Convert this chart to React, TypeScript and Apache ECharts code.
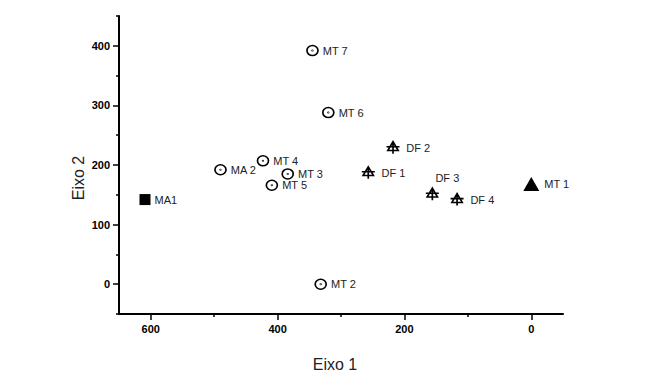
import React, { useEffect, useRef } from "react";
import * as echarts from "echarts";

const amostras = ["MA1", "MA 2", "MT 1", "MT 2", "MT 3", "MT 4", "MT 5", "MT 6", "MT 7", "DF 1", "DF 2", "DF 3", "DF 4"];
const eixo1 = [609, 490, 0, 332, 384, 423, 409, 320, 345, 257, 218, 156, 117];
const eixo2 = [142, 192, 168, 0, 185, 207, 166, 288, 392, 187, 229, 151, 142];
const grupos = ["quadrado", "circulo", "triangulo", "circulo", "circulo", "circulo", "circulo", "circulo", "circulo", "df", "df", "df", "df"];

const xTicksMaiores = [600, 400, 200, 0];
const xTicksMenores = [500, 300, 100];
const yTicksMaiores = [0, 100, 200, 300, 400];
const yTicksMenores = [-50, 50, 150, 250, 350, 450];

const circuloPath =
  "path://M1,10 A9,9 0 1,1 19,10 A9,9 0 1,1 1,10 Z M9.5,10 A0.5,0.5 0 1,1 10.5,10 A0.5,0.5 0 1,1 9.5,10 Z";
const dfPath = "path://M10,1 L18,15 L2,15 Z M0,9 L20,9 M10,1 L10,20";

export default function App() {
  const ref = useRef<HTMLDivElement>(null);
  useEffect(() => {
    if (!ref.current) return;
    const chart = echarts.init(ref.current, null, { renderer: "svg" });
    const pontos = (g: string) =>
      amostras
        .map((n, i) => ({ name: n, value: [eixo1[i], eixo2[i]], g: grupos[i] }))
        .filter((p) => p.g === g)
        .map((p) =>
          p.name === "DF 3"
            ? { name: p.name, value: p.value, label: { position: "top", offset: [15, 2] } }
            : { name: p.name, value: p.value }
        );
    const label = {
      show: true,
      position: "right",
      distance: 4,
      formatter: "{b}",
      fontSize: 11,
      color: "#222",
      fontFamily: "Liberation Sans, Arial, sans-serif",
    };
    const tickFont = {
      fontSize: 11,
      fontWeight: "bold",
      color: "#000",
      fontFamily: "Liberation Sans Narrow, Arial Narrow, Liberation Sans, Arial, sans-serif",
    };
    chart.setOption({
      animation: false,
      backgroundColor: "#fff",
      grid: { left: 119, right: 87, top: 16, bottom: 73 },
      xAxis: [
        {
          type: "value",
          min: -50,
          max: 650,
          inverse: true,
          position: "bottom",
          splitLine: { show: false },
          axisLine: { show: true, onZero: false, lineStyle: { color: "#000", width: 2 } },
          axisTick: { show: true, customValues: xTicksMaiores, length: 6, lineStyle: { color: "#000", width: 1.5 } },
          axisLabel: { customValues: xTicksMaiores, margin: 9, ...tickFont },
        },
        {
          type: "value",
          min: -50,
          max: 650,
          inverse: true,
          position: "bottom",
          splitLine: { show: false },
          axisLine: { show: false, onZero: false },
          axisTick: { show: true, customValues: xTicksMenores, length: 3, lineStyle: { color: "#000", width: 1.5 } },
          axisLabel: { show: false },
        },
      ],
      yAxis: [
        {
          type: "value",
          min: -50,
          max: 450,
          position: "left",
          splitLine: { show: false },
          axisLine: { show: true, onZero: false, lineStyle: { color: "#000", width: 2 } },
          axisTick: { show: true, customValues: yTicksMaiores, length: 6, lineStyle: { color: "#000", width: 1.5 } },
          axisLabel: { customValues: yTicksMaiores, margin: 9, ...tickFont },
        },
        {
          type: "value",
          min: -50,
          max: 450,
          position: "left",
          splitLine: { show: false },
          axisLine: { show: false, onZero: false },
          axisTick: { show: true, customValues: yTicksMenores, length: 3, lineStyle: { color: "#000", width: 1.5 } },
          axisLabel: { show: false },
        },
      ],
      graphic: [
        {
          type: "text",
          x: 78,
          y: 178,
          rotation: Math.PI / 2,
          style: {
            text: "Eixo 2",
            fontSize: 16,
            fill: "#222",
            fontFamily: "Liberation Sans, Arial, sans-serif",
            align: "center",
            verticalAlign: "middle",
          },
        },
        {
          type: "text",
          x: 335,
          y: 364,
          style: {
            text: "Eixo 1",
            fontSize: 16,
            fill: "#222",
            fontFamily: "Liberation Sans, Arial, sans-serif",
            align: "center",
            verticalAlign: "middle",
          },
        },
      ],
      series: [
        {
          type: "scatter",
          data: pontos("quadrado"),
          symbol: "rect",
          symbolSize: 11,
          itemStyle: { color: "#000", opacity: 1 },
          label,
        },
        {
          type: "scatter",
          data: pontos("triangulo"),
          symbol: "triangle",
          symbolSize: [16, 14],
          itemStyle: { color: "#000", opacity: 1 },
          label: { ...label, distance: 5 },
        },
        {
          type: "scatter",
          data: pontos("circulo"),
          symbol: circuloPath,
          symbolSize: [11, 10],
          itemStyle: { color: "transparent", borderColor: "#000", borderWidth: 1.6, opacity: 1 },
          label,
        },
        {
          type: "scatter",
          data: pontos("df"),
          symbol: dfPath,
          symbolSize: [13, 12],
          itemStyle: { color: "transparent", borderColor: "#000", borderWidth: 1.6, opacity: 1 },
          label: { ...label, distance: 6 },
        },
      ],
    });
    return () => chart.dispose();
  }, []);
  return (
    <div
      ref={ref}
      style={{ position: "absolute", left: 0, top: 0, width: 650, height: 387, background: "#fff" }}
    />
  );
}
